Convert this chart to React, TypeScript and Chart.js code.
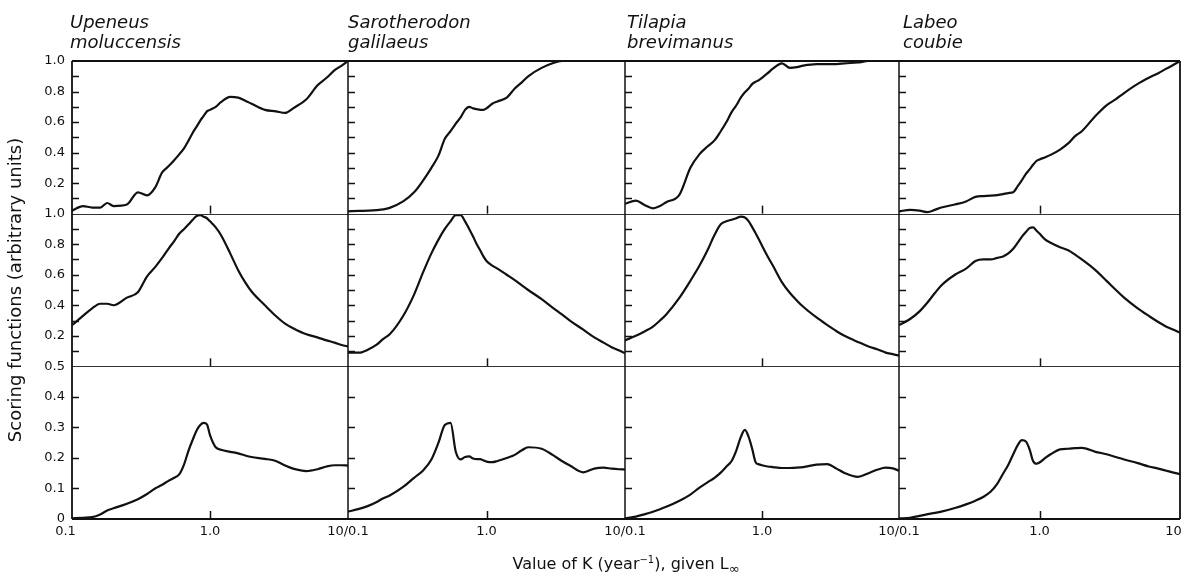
import React, { useEffect, useRef } from 'react';
import { Chart, registerables } from 'chart.js';

Chart.register(...registerables);

// ---- data -------------------------------------------------------------
const K_VALUES = [0.1, 0.12, 0.14, 0.16, 0.18, 0.2, 0.25, 0.3, 0.35, 0.4, 0.45, 0.5, 0.55, 0.6, 0.65, 0.7, 0.75, 0.8, 0.85, 0.9, 0.95, 1.0, 1.1, 1.2, 1.4, 1.6, 1.8, 2, 2.5, 3, 3.5, 4, 5, 6, 7, 8, 9, 10];

// top row (scale 0 - 1.0)
const upeneusTop = [0.02, 0.05, 0.04, 0.04, 0.07, 0.05, 0.06, 0.14, 0.12, 0.17, 0.27, 0.31, 0.35, 0.39, 0.43, 0.48, 0.53, 0.57, 0.61, 0.64, 0.67, 0.68, 0.7, 0.73, 0.765, 0.76, 0.74, 0.72, 0.68, 0.67, 0.66, 0.69, 0.75, 0.84, 0.89, 0.94, 0.97, 1.0];
const sarotherodonTop = [0.015, 0.018, 0.02, 0.023, 0.028, 0.038, 0.08, 0.14, 0.22, 0.3, 0.38, 0.49, 0.54, 0.59, 0.63, 0.68, 0.7, 0.69, 0.685, 0.68, 0.68, 0.69, 0.72, 0.735, 0.76, 0.82, 0.86, 0.9, 0.955, 0.985, 1.0, 1.0, 1.0, 1.0, 1.0, 1.0, 1.0, 1.0];
const tilapiaTop = [0.065, 0.085, 0.055, 0.035, 0.05, 0.075, 0.125, 0.3, 0.39, 0.44, 0.48, 0.54, 0.6, 0.665, 0.71, 0.76, 0.795, 0.82, 0.85, 0.865, 0.875, 0.89, 0.92, 0.95, 0.985, 0.955, 0.96, 0.97, 0.98, 0.98, 0.98, 0.985, 0.99, 1.0, 1.0, 1.0, 1.0, 1.0];
const labeoTop = [0.015, 0.025, 0.02, 0.01, 0.025, 0.04, 0.06, 0.08, 0.11, 0.115, 0.118, 0.122, 0.128, 0.135, 0.14, 0.18, 0.22, 0.26, 0.29, 0.32, 0.345, 0.355, 0.37, 0.385, 0.42, 0.46, 0.51, 0.54, 0.64, 0.71, 0.75, 0.79, 0.85, 0.89, 0.92, 0.95, 0.975, 1.0];

// middle row (scale 0 - 1.0)
const upeneusMid = [0.27, 0.33, 0.38, 0.41, 0.41, 0.4, 0.45, 0.485, 0.59, 0.65, 0.71, 0.77, 0.82, 0.87, 0.9, 0.93, 0.96, 0.985, 0.99, 0.98, 0.97, 0.95, 0.91, 0.86, 0.74, 0.63, 0.55, 0.49, 0.4, 0.33, 0.28, 0.25, 0.21, 0.19, 0.17, 0.155, 0.14, 0.13];
const sarotherodonMid = [0.09, 0.09, 0.11, 0.14, 0.18, 0.21, 0.33, 0.47, 0.62, 0.74, 0.83, 0.9, 0.95, 0.99, 0.99, 0.95, 0.9, 0.85, 0.8, 0.76, 0.72, 0.69, 0.66, 0.64, 0.6, 0.565, 0.53, 0.5, 0.44, 0.385, 0.34, 0.3, 0.24, 0.19, 0.155, 0.125, 0.105, 0.085];
const tilapiaMid = [0.17, 0.2, 0.23, 0.26, 0.3, 0.34, 0.45, 0.56, 0.66, 0.76, 0.86, 0.93, 0.95, 0.96, 0.97, 0.98, 0.975, 0.95, 0.91, 0.87, 0.83, 0.79, 0.72, 0.66, 0.55, 0.48, 0.43, 0.39, 0.32, 0.27, 0.23, 0.2, 0.16, 0.13, 0.11, 0.09, 0.08, 0.07];
const labeoMid = [0.27, 0.31, 0.36, 0.42, 0.48, 0.53, 0.6, 0.64, 0.69, 0.7, 0.7, 0.71, 0.72, 0.74, 0.77, 0.81, 0.85, 0.88, 0.905, 0.91, 0.89, 0.87, 0.83, 0.81, 0.78, 0.76, 0.73, 0.7, 0.63, 0.56, 0.5, 0.45, 0.38, 0.33, 0.29, 0.26, 0.24, 0.22];

// bottom row (scale 0 - 0.5)
const upeneusLow = [0.002, 0.004, 0.006, 0.015, 0.028, 0.035, 0.05, 0.065, 0.082, 0.1, 0.112, 0.125, 0.135, 0.147, 0.18, 0.225, 0.26, 0.29, 0.308, 0.315, 0.31, 0.275, 0.235, 0.227, 0.22, 0.215, 0.208, 0.203, 0.197, 0.19, 0.175, 0.165, 0.157, 0.163, 0.172, 0.176, 0.176, 0.175];
const sarotherodonLow = [0.024, 0.033, 0.043, 0.055, 0.068, 0.077, 0.105, 0.135, 0.16, 0.195, 0.25, 0.308, 0.315, 0.22, 0.195, 0.203, 0.205, 0.198, 0.196, 0.196, 0.192, 0.188, 0.186, 0.19, 0.2, 0.21, 0.225, 0.235, 0.23, 0.21, 0.19, 0.175, 0.153, 0.165, 0.168, 0.165, 0.163, 0.162];
const tilapiaLow = [0.002, 0.008, 0.016, 0.024, 0.032, 0.04, 0.06, 0.08, 0.103, 0.12, 0.135, 0.152, 0.172, 0.19, 0.225, 0.268, 0.292, 0.268, 0.228, 0.185, 0.179, 0.176, 0.172, 0.17, 0.167, 0.167, 0.168, 0.17, 0.178, 0.18, 0.165, 0.151, 0.138, 0.15, 0.162, 0.168, 0.166, 0.158];
const labeoLow = [0.002, 0.004, 0.01, 0.016, 0.02, 0.024, 0.036, 0.048, 0.06, 0.073, 0.09, 0.115, 0.148, 0.178, 0.212, 0.242, 0.258, 0.254, 0.228, 0.19, 0.181, 0.185, 0.2, 0.212, 0.228, 0.23, 0.232, 0.233, 0.22, 0.212, 0.203, 0.195, 0.183, 0.172, 0.165, 0.158, 0.152, 0.147];

const SPECIES = [
  ['Upeneus', 'moluccensis'],
  ['Sarotherodon', 'galilaeus'],
  ['Tilapia', 'brevimanus'],
  ['Labeo', 'coubie'],
];

const ROW_SERIES = [
  [upeneusTop, sarotherodonTop, tilapiaTop, labeoTop],
  [upeneusMid, sarotherodonMid, tilapiaMid, labeoMid],
  [upeneusLow, sarotherodonLow, tilapiaLow, labeoLow],
];

const Y_MAX = [1.0, 1.0, 0.5];
const Y_TICKS_FULL = [0, 0.1, 0.2, 0.3, 0.4, 0.5, 0.6, 0.7, 0.8, 0.9, 1.0];
const Y_LABELS_FULL = ['', '', '0.2', '', '0.4', '', '0.6', '', '0.8', '', '1.0'];
const Y_TICKS_LOW = [0, 0.1, 0.2, 0.3, 0.4, 0.5];
const Y_LABELS_LOW = ['0', '0.1', '0.2', '0.3', '0.4', '0.5'];
const ROW_TICKS = [Y_TICKS_FULL, Y_TICKS_FULL, Y_TICKS_LOW];
const ROW_LABELS = [Y_LABELS_FULL, Y_LABELS_FULL, Y_LABELS_LOW];

const X_TICKS = [0.1, 1, 10];
const X_LABELS = [
  ['0.1\u2003', '1.0', '10/0.1'],
  ['', '1.0', '10/0.1'],
  ['', '1.0', '10/0.1'],
  ['', '1.0', '10\u2003'],
];

const Y_TITLE = 'Scoring functions (arbitrary units)';

// ---- layout -----------------------------------------------------------
const W = 1184;
const H = 582;
const COL_WEIGHTS = [276, 277, 274, 281];
const TITLE_LEFT = [70, 348, 627, 903];
const INK = '#111';
const FONT = 'DejaVu Sans';

const decorPlugin = {
  id: 'panelDecor',
  afterDatasetsDraw(chart: any) {
    const { ctx, chartArea } = chart;
    const xs = [0, 1, 2, 3].map((c) => chart.scales['x' + c]);
    const ys = [0, 1, 2].map((r) => chart.scales['y' + r]);
    ctx.save();
    ctx.strokeStyle = INK;
    ctx.lineCap = 'butt';

    // inward y ticks and x tick at K = 1.0
    ctx.lineWidth = 1.5;
    ys.forEach((ysc: any) => {
      ysc.ticks.forEach((t: any) => {
        if (t.value <= ysc.min + 1e-9 || t.value >= ysc.max - 1e-9) return;
        const py = Math.round(ysc.getPixelForValue(t.value)) + 0.5;
        xs.forEach((xsc: any) => {
          ctx.beginPath();
          ctx.moveTo(xsc.left, py);
          ctx.lineTo(xsc.left + 7, py);
          ctx.stroke();
        });
      });
      xs.forEach((xsc: any) => {
        const px = Math.round(xsc.getPixelForValue(1)) + 0.5;
        ctx.beginPath();
        ctx.moveTo(px, ysc.bottom);
        ctx.lineTo(px, ysc.bottom - 8);
        ctx.stroke();
      });
    });

    // row separators
    ctx.lineWidth = 1;
    ctx.strokeStyle = '#333';
    [ys[0].bottom, ys[1].bottom].forEach((yy: number) => {
      const py = Math.round(yy) + 0.5;
      ctx.beginPath();
      ctx.moveTo(chartArea.left, py);
      ctx.lineTo(chartArea.right, py);
      ctx.stroke();
    });

    // outer frame + column dividers
    ctx.strokeStyle = INK;
    ctx.lineWidth = 1.8;
    ctx.beginPath();
    ctx.moveTo(chartArea.left, chartArea.top);
    ctx.lineTo(chartArea.right, chartArea.top);
    ctx.moveTo(chartArea.left, chartArea.bottom);
    ctx.lineTo(chartArea.right, chartArea.bottom);
    ctx.moveTo(chartArea.left, chartArea.top);
    ctx.lineTo(chartArea.left, chartArea.bottom);
    ctx.moveTo(chartArea.right, chartArea.top);
    ctx.lineTo(chartArea.right, chartArea.bottom);
    ctx.stroke();
    ctx.lineWidth = 1.5;
    xs.slice(1).forEach((xsc: any) => {
      const px = Math.round(xsc.left);
      ctx.beginPath();
      ctx.moveTo(px, chartArea.top);
      ctx.lineTo(px, chartArea.bottom);
      ctx.stroke();
    });
    ctx.restore();
  },
};

function buildConfig(): any {
  const datasets: any[] = [];
  ROW_SERIES.forEach((row, r) => {
    row.forEach((vals, c) => {
      datasets.push({
        label: SPECIES[c].join(' ') + ' ' + (r + 1),
        data: K_VALUES.map((k, i) => ({ x: k, y: vals[i] })),
        xAxisID: 'x' + c,
        yAxisID: 'y' + r,
        borderColor: INK,
        borderWidth: 2.2,
        pointRadius: 0,
        fill: false,
        cubicInterpolationMode: 'monotone',
      });
    });
  });

  const scales: any = {};
  [0, 1, 2, 3].forEach((c) => {
    scales['x' + c] = {
      type: 'logarithmic',
      position: 'bottom',
      stack: 'cols',
      stackWeight: COL_WEIGHTS[c],
      weight: c + 1,
      min: 0.1,
      max: 10,
      afterBuildTicks: (axis: any) => {
        axis.ticks = X_TICKS.map((v) => ({ value: v }));
      },
      afterFit: (axis: any) => {
        axis.height = 24;
        axis.paddingLeft = 0;
        axis.paddingRight = 0;
        axis.paddingTop = 0;
        axis.paddingBottom = 0;
      },
      ticks: {
        autoSkip: false,
        maxRotation: 0,
        minRotation: 0,
        padding: 5,
        color: INK,
        font: { family: FONT, size: 13 },
        callback: (_v: any, i: number) => X_LABELS[c][i],
      },
      grid: { display: false, drawTicks: false },
      border: { display: false },
    };
  });
  [0, 1, 2].forEach((r) => {
    scales['y' + r] = {
      type: 'linear',
      position: 'left',
      stack: 'rows',
      stackWeight: 1,
      weight: 3 - r,
      min: 0,
      max: Y_MAX[r],
      afterBuildTicks: (axis: any) => {
        axis.ticks = ROW_TICKS[r].map((v) => ({ value: v }));
      },
      afterFit: (axis: any) => {
        axis.width = 72;
        axis.paddingLeft = 0;
        axis.paddingRight = 0;
        axis.paddingTop = 0;
        axis.paddingBottom = 0;
      },
      ticks: {
        autoSkip: false,
        padding: 7,
        color: INK,
        font: { family: FONT, size: 13 },
        callback: (_v: any, i: number) => ROW_LABELS[r][i],
      },
      grid: { display: false, drawTicks: false },
      border: { display: false },
      title: {
        display: r === 1,
        text: Y_TITLE,
        color: INK,
        font: { family: FONT, size: 18 },
        padding: { top: 6, bottom: 0 },
      },
    };
  });

  return {
    type: 'line',
    data: { datasets },
    options: {
      animation: false,
      responsive: false,
      devicePixelRatio: 1,
      events: [],
      layout: { padding: { top: 61, right: 4, bottom: 39, left: 0 } },
      plugins: { legend: { display: false }, tooltip: { enabled: false }, title: { display: false } },
      scales,
    },
    plugins: [decorPlugin],
  };
}

export default function App() {
  const ref = useRef<HTMLCanvasElement>(null);
  useEffect(() => {
    if (!ref.current) return;
    const chart = new Chart(ref.current, buildConfig());
    return () => chart.destroy();
  }, []);

  return (
    <div style={{ position: 'absolute', left: 0, top: 0, width: W, height: H, background: '#fff', overflow: 'hidden' }}>
      <canvas ref={ref} width={W} height={H} style={{ position: 'absolute', left: 0, top: 0, width: W, height: H }} />
      {SPECIES.map((s, c) => (
        <div
          key={c}
          style={{
            position: 'absolute',
            left: TITLE_LEFT[c],
            top: 12,
            fontFamily: FONT,
            fontStyle: 'italic',
            fontSize: 18,
            lineHeight: '20px',
            color: INK,
            whiteSpace: 'nowrap',
          }}
        >
          {s[0]}
          <br />
          {s[1]}
        </div>
      ))}
      <div
        style={{
          position: 'absolute',
          left: 626,
          top: 554,
          transform: 'translateX(-50%)',
          fontFamily: FONT,
          fontSize: 16,
          lineHeight: '20px',
          color: INK,
          whiteSpace: 'nowrap',
        }}
      >
        Value of K (year<sup style={{ fontSize: 10, lineHeight: 0 }}>−1</sup>), given L<sub style={{ fontSize: 13, lineHeight: 0 }}>∞</sub>
      </div>
    </div>
  );
}
